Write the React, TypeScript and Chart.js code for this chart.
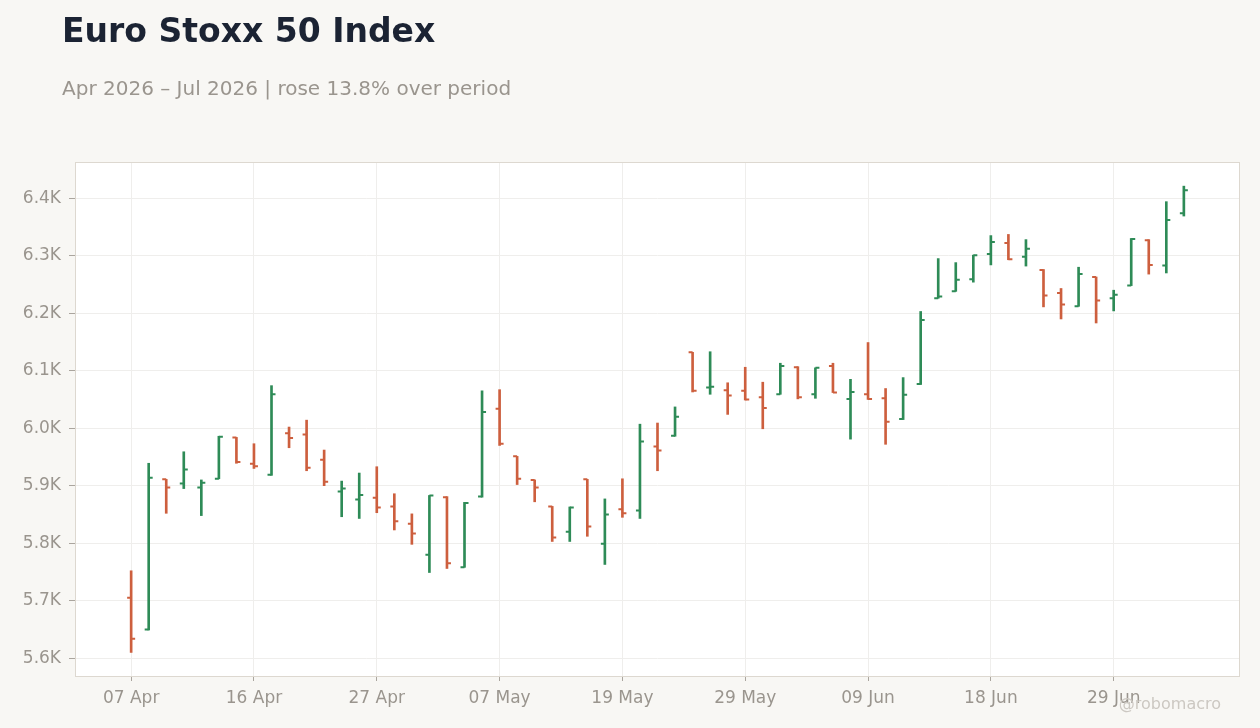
import { useEffect, useRef } from "react";
import { Chart, registerables } from "chart.js";

Chart.register(...registerables);

const dates = [
  "07 Apr", "08 Apr", "09 Apr", "10 Apr", "13 Apr", "14 Apr", "15 Apr", "16 Apr", "17 Apr", "20 Apr",
  "21 Apr", "22 Apr", "23 Apr", "24 Apr", "27 Apr", "28 Apr", "29 Apr", "30 Apr", "04 May", "05 May",
  "06 May", "07 May", "08 May", "11 May", "12 May", "13 May", "15 May", "18 May", "19 May", "20 May",
  "21 May", "22 May", "26 May", "27 May", "28 May", "29 May", "01 Jun", "02 Jun", "03 Jun", "04 Jun",
  "05 Jun", "08 Jun", "09 Jun", "10 Jun", "11 Jun", "12 Jun", "15 Jun", "16 Jun", "17 Jun", "18 Jun",
  "19 Jun", "22 Jun", "23 Jun", "24 Jun", "25 Jun", "26 Jun", "29 Jun", "30 Jun", "01 Jul", "02 Jul",
  "03 Jul",
];

const opens = [
  5705, 5650, 5911, 5904, 5897, 5912, 5984, 5938, 5919, 5991,
  5989, 5945, 5890, 5876, 5879, 5864, 5834, 5780, 5880, 5758,
  5881, 6034, 5951, 5910, 5864, 5820, 5911, 5799, 5859, 5857,
  5968, 5987, 6132, 6071, 6066, 6065, 6054, 6059, 6106, 6059,
  6108, 6051, 6059, 6052, 6016, 6077, 6226, 6238, 6259, 6303,
  6322, 6298, 6275, 6235, 6212, 6263, 6226, 6248, 6327, 6283,
  6374,
];
const highs = [
  5752, 5939, 5911, 5959, 5910, 5986, 5984, 5973, 6074, 6002,
  6014, 5962, 5908, 5922, 5933, 5886, 5851, 5883, 5881, 5871,
  6065, 6067, 5951, 5910, 5864, 5863, 5911, 5877, 5912, 6007,
  6009, 6037, 6132, 6133, 6079, 6106, 6080, 6113, 6107, 6105,
  6113, 6085, 6149, 6069, 6088, 6203, 6295, 6288, 6301, 6335,
  6337, 6328, 6276, 6243, 6280, 6263, 6240, 6330, 6328, 6394,
  6421,
];
const lows = [
  5610, 5649, 5852, 5895, 5848, 5912, 5939, 5930, 5918, 5966,
  5926, 5900, 5846, 5843, 5853, 5823, 5798, 5749, 5756, 5758,
  5880, 5970, 5902, 5872, 5803, 5803, 5812, 5763, 5845, 5843,
  5926, 5986, 6063, 6059, 6024, 6049, 5999, 6059, 6051, 6052,
  6062, 5981, 6050, 5972, 6015, 6076, 6226, 6238, 6254, 6284,
  6293, 6282, 6211, 6190, 6212, 6183, 6204, 6248, 6268, 6270,
  6369,
];
const closes = [
  5634, 5914, 5897, 5928, 5905, 5985, 5941, 5934, 6059, 5983,
  5931, 5907, 5895, 5884, 5862, 5838, 5817, 5883, 5765, 5870,
  6028, 5973, 5912, 5897, 5810, 5862, 5829, 5850, 5852, 5977,
  5961, 6020, 6065, 6072, 6057, 6050, 6035, 6108, 6054, 6105,
  6062, 6063, 6051, 6011, 6058, 6188, 6229, 6258, 6301, 6324,
  6294, 6312, 6231, 6215, 6268, 6222, 6232, 6329, 6284, 6362,
  6414,
];

const xTickIdx = [0, 7, 14, 21, 28, 35, 42, 49, 56];
const yTickValues = [5600, 5700, 5800, 5900, 6000, 6100, 6200, 6300, 6400];

const UP = "#2e8b57";
const DOWN = "#cd5f3e";
const TEXT_GRAY = "#9a958e";

const plotFrame = {
  id: "plotFrame",
  beforeDraw(chart: any) {
    const { ctx, chartArea: a } = chart;
    ctx.save();
    ctx.fillStyle = "#ffffff";
    ctx.fillRect(a.left, a.top, a.right - a.left, a.bottom - a.top);
    ctx.restore();
  },
  afterDraw(chart: any) {
    const { ctx, chartArea: a } = chart;
    ctx.save();
    ctx.strokeStyle = "#ddd8d0";
    ctx.lineWidth = 1;
    ctx.strokeRect(a.left + 0.5, a.top + 0.5, a.right - a.left - 1, a.bottom - a.top);
    ctx.restore();
  },
};

// open tick on the left, close tick on the right
const ohlcTicks = {
  id: "ohlcTicks",
  afterDatasetsDraw(chart: any) {
    const { ctx } = chart;
    const x = chart.scales.x;
    const y = chart.scales.y;
    ctx.save();
    ctx.lineWidth = 2;
    for (let i = 0; i < opens.length; i++) {
      const px = x.getPixelForValue(i);
      const yo = y.getPixelForValue(opens[i]);
      const yc = y.getPixelForValue(closes[i]);
      ctx.strokeStyle = closes[i] >= opens[i] ? UP : DOWN;
      ctx.beginPath();
      ctx.moveTo(px - 4, yo);
      ctx.lineTo(px, yo);
      ctx.moveTo(px, yc);
      ctx.lineTo(px + 4, yc);
      ctx.stroke();
    }
    ctx.restore();
  },
};

export default function App() {
  const chartRef = useRef<HTMLCanvasElement>(null);
  const chartInstanceRef = useRef<Chart | null>(null);

  useEffect(() => {
    if (!chartRef.current) return;
    if (chartInstanceRef.current) chartInstanceRef.current.destroy();

    const ctx = chartRef.current.getContext("2d");
    if (!ctx) return;

    Chart.defaults.font.family = "'DejaVu Sans', sans-serif";

    chartInstanceRef.current = new Chart(ctx, {
      type: "bar",
      data: {
        datasets: [
          {
            data: dates.map((_, i) => ({ x: i, y: [lows[i], highs[i]] })) as any,
            backgroundColor: closes.map((c, i) => (c >= opens[i] ? UP : DOWN)),
            borderWidth: 0,
            barThickness: 2,
          },
        ],
      },
      options: {
        responsive: false,
        animation: false,
        layout: { padding: { top: 162, right: 20, left: 0, bottom: 0 } },
        plugins: {
          legend: { display: false },
          tooltip: { enabled: false },
        },
        scales: {
          x: {
            type: "linear",
            bounds: "data",
            min: -3.2,
            max: 63.2,
            offset: false,
            afterBuildTicks: (scale: any) => {
              scale.ticks = xTickIdx.map((v) => ({ value: v }));
            },
            afterFit: (scale: any) => {
              scale.height = 52;
            },
            ticks: {
              color: TEXT_GRAY,
              font: { size: 17 },
              padding: 7,
              maxRotation: 0,
              autoSkip: false,
              callback: (v: any) => dates[v] ?? "",
            },
            grid: { offset: false, color: "#efeeec", tickColor: "#aaa59e", tickLength: 5 },
            border: { display: false },
          },
          y: {
            bounds: "data",
            min: 5569,
            max: 6463,
            afterBuildTicks: (scale: any) => {
              scale.ticks = yTickValues.map((v) => ({ value: v }));
            },
            afterFit: (scale: any) => {
              scale.width = 75;
            },
            ticks: {
              color: TEXT_GRAY,
              font: { size: 17 },
              padding: 8,
              callback: (v: any) => (Number(v) / 1000).toFixed(1) + "K",
            },
            grid: { color: "#efeeec", tickColor: "#aaa59e", tickLength: 6 },
            border: { display: false },
          },
        },
      },
      plugins: [plotFrame, ohlcTicks],
    });

    return () => {
      if (chartInstanceRef.current) {
        chartInstanceRef.current.destroy();
        chartInstanceRef.current = null;
      }
    };
  }, []);

  return (
    <div
      style={{
        position: "fixed",
        left: 0,
        top: 0,
        width: 1260,
        height: 728,
        background: "#f8f7f4",
        fontFamily: "'DejaVu Sans', sans-serif",
        overflow: "hidden",
      }}
    >
      <canvas ref={chartRef} width={1260} height={728} style={{ position: "absolute", left: 0, top: 0 }} />
      <div
        style={{
          position: "absolute",
          left: 62,
          top: 14,
          fontSize: 33,
          lineHeight: 1,
          fontWeight: 700,
          color: "#1b2333",
          whiteSpace: "nowrap",
        }}
      >
        Euro Stoxx 50 Index
      </div>
      <div
        style={{
          position: "absolute",
          left: 62,
          top: 77.5,
          fontSize: 20,
          lineHeight: 1,
          color: TEXT_GRAY,
          whiteSpace: "nowrap",
        }}
      >
        Apr 2026 – Jul 2026 | rose 13.8% over period
      </div>
      <div
        style={{
          position: "absolute",
          right: 39,
          top: 696,
          fontSize: 16,
          lineHeight: 1,
          color: "#ccc8c2",
          whiteSpace: "nowrap",
        }}
      >
        @robomacro
      </div>
    </div>
  );
}
